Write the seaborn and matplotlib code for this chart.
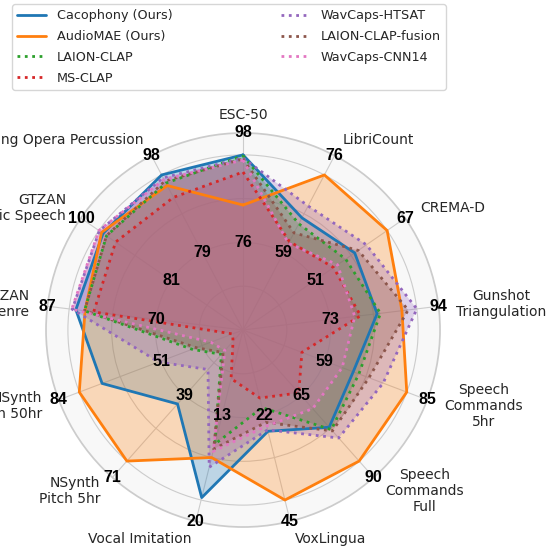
import numpy as np
import matplotlib
matplotlib.use("Agg")
import matplotlib.pyplot as plt
import seaborn as sns

# ejes del radar, en sentido horario desde arriba
categories = [
    "ESC-50", "LibriCount", "CREMA-D", "Gunshot\nTriangulation",
    "Speech\nCommands\n5hr", "Speech\nCommands\nFull", "VoxLingua",
    "Vocal Imitation", "NSynth\nPitch 5hr", "NSynth\nPitch 50hr",
    "GTZAN\nGenre", "GTZAN\nMusic Speech", "Beijing Opera Percussion",
]
# valores de referencia de cada eje (anillo interior / exterior)
axis_low = [76, 59, 51, 73, 59, 65, 22, 13, 39, 51, 70, 81, 79]
axis_high = [98, 76, 67, 94, 85, 90, 45, 20, 71, 84, 87, 100, 98]

models = [
    "Cacophony (Ours)", "AudioMAE (Ours)", "LAION-CLAP", "MS-CLAP",
    "WavCaps-HTSAT", "LAION-CLAP-fusion", "WavCaps-CNN14",
]
cacophony = [98.0, 66.6, 59.8, 84.4, 68.0, 77.1, 26.4, 19.8, 43.1, 74.8, 85.7, 98.9, 98.0]
audiomae = [85.4, 76.0, 67.0, 90.4, 85.0, 90.0, 45.0, 16.5, 71.0, 84.0, 83.9, 99.3, 95.4]
laion_clap = [97.8, 65.3, 57.8, 85.2, 69.8, 78.0, 20.0, 15.4, 18.9, 38.5, 84.0, 98.0, 96.0]
ms_clap = [93.7, 61.4, 55.1, 80.4, 51.7, 64.0, 17.4, 10.0, 12.5, 22.2, 82.2, 95.6, 92.5]
wavcaps_htsat = [97.2, 69.2, 62.4, 94.0, 77.5, 81.2, 26.0, 17.3, 26.3, 52.0, 86.4, 99.9, 97.3]
laion_fusion = [97.0, 63.3, 60.6, 91.9, 73.0, 78.5, 24.0, 15.8, 18.0, 36.8, 84.0, 98.0, 96.5]
wavcaps_cnn14 = [96.7, 61.0, 56.0, 79.0, 64.5, 70.0, 25.0, 16.0, 17.0, 31.0, 86.5, 100.0, 96.9]
series = [cacophony, audiomae, laion_clap, ms_clap, wavcaps_htsat, laion_fusion, wavcaps_cnn14]
ours = {"Cacophony (Ours)", "AudioMAE (Ours)"}

sns.set_theme(style="whitegrid")
plt.rcParams["font.family"] = ["DejaVu Sans"]
palette = sns.color_palette("tab10")

R_IN, R_OUT, R_MAX = 0.4, 0.8, 0.9
low = np.array(axis_low, dtype=float)
high = np.array(axis_high, dtype=float)


def to_radius(values):
    """Cada eje tiene su propia escala: low -> anillo 0.4, high -> anillo 0.8."""
    v = np.asarray(values, dtype=float)
    return R_IN + (R_OUT - R_IN) * (v - low) / (high - low)


n = len(categories)
angles = np.linspace(0, 2 * np.pi, n, endpoint=False)
theta = np.append(angles, angles[0])

fig = plt.figure(figsize=(5.57, 5.48), dpi=100)
ax = fig.add_axes([0.0826, 0.0383, 0.7074, 0.719], projection="polar")
ax.set_theta_offset(np.pi / 2)
ax.set_theta_direction(-1)
ax.set_facecolor("#f8f8f8")

for i, (name, vals) in enumerate(zip(models, series)):
    r = to_radius(vals)
    r = np.append(r, r[0])
    ls = "-" if name in ours else ":"
    ax.plot(theta, r, color=palette[i], lw=2, ls=ls, label=name, zorder=3)
    ax.fill(theta, r, color=palette[i], alpha=0.27, lw=0, zorder=2)

ax.set_ylim(0, R_MAX)
ax.set_yticks([0.2, 0.4, 0.6, 0.8])
ax.set_yticklabels([])
ax.set_xticks(angles)
ax.set_xticklabels([])
ax.grid(color=".8", lw=0.8)
ax.spines["polar"].set_color(".8")

for ang, cat, lo, hi in zip(angles, categories, axis_low, axis_high):
    x = np.sin(ang)
    ha = "center" if abs(x) < 0.01 else ("left" if x > 0 else "right")
    ma = "right" if x < -0.01 else "center"
    ax.text(ang, 0.982, cat, ha=ha, va="center", ma=ma, fontsize=10,
            color=".15", clip_on=False, zorder=5)
    for rr, val in ((R_IN, lo), (R_MAX, hi)):
        ax.text(ang, rr, f"{val}", ha="center", va="center", fontsize=11.5,
                fontweight="bold", family="Liberation Sans", color="black",
                clip_on=False, zorder=6)

handles, labels = ax.get_legend_handles_labels()
fig.legend(handles, labels, loc="upper left",
           bbox_to_anchor=(12 / 557, 1 - 4 / 548),
           ncol=2, fontsize=9.2, borderaxespad=0, frameon=True,
           handlelength=2.3, labelspacing=0.62, columnspacing=8.5)

fig.savefig("out.png", dpi=100)
plt.close(fig)
